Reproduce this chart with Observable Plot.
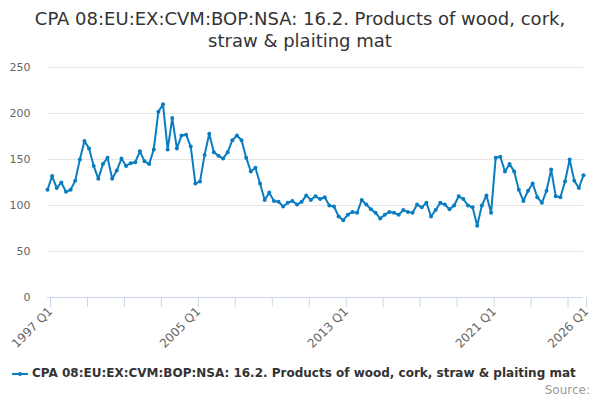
<!DOCTYPE html>
<html>
<head>
<meta charset="utf-8">
<script src="https://cdn.jsdelivr.net/npm/d3@7"></script>
<script src="https://cdn.jsdelivr.net/npm/@observablehq/plot@0.6"></script>
<style>
  body { margin: 0; width: 600px; height: 400px; overflow: hidden; background: #fff; font-family: "DejaVu Sans", sans-serif; }
  #title { height: 56px; box-sizing: border-box; padding: 8px 20px 0; text-align: center; font-size: 18px; line-height: 22px; color: #333; }
  #chart { height: 300px; }
  #legend { position: absolute; top: 366px; left: 12px; font-size: 12px; font-weight: bold; color: #333; white-space: nowrap; }
  #legend svg { vertical-align: middle; margin-right: 4px; }
  #source { position: absolute; top: 383px; right: 10px; font-size: 12px; color: #999; }
</style>
</head>
<body>
<div id="title">CPA 08:EU:EX:CVM:BOP:NSA: 16.2. Products of wood, cork, straw &amp; plaiting mat</div>
<div id="chart"></div>
<div id="legend"></div>
<div id="source">Source:</div>
<script>
const seriesName = 'CPA 08:EU:EX:CVM:BOP:NSA: 16.2. Products of wood, cork, straw & plaiting mat'
const firstYear = 1997

// valores trimestrales, 1997 Q1 en adelante
const valores = [
  117, 132, 119, 125, 115, 117, 127, 150, 170, 162, 143, 129, 145, 152, 129, 138,
  151, 143, 146, 147, 159, 148, 145, 161, 202, 210, 161, 195, 162, 176, 177, 164,
  124, 126, 155, 178, 158, 154, 151, 158, 171, 176, 171, 152, 137, 141, 124, 106,
  114, 105, 104, 99, 103, 105, 101, 104, 111, 106, 110, 107, 109, 100, 99, 88,
  84, 90, 93, 92, 106, 101, 96, 92, 86, 90, 93, 92, 90, 95, 93, 92,
  101, 98, 103, 88, 95, 103, 101, 96, 100, 110, 107, 100, 98, 78, 100, 111,
  92, 152, 153, 137, 145, 137, 117, 105, 116, 124, 109, 103, 116, 139, 110, 109,
  126, 150, 127, 119, 133
]

const trimestres = valores.map((_, i) => `${firstYear + Math.floor(i / 4)} Q${i % 4 + 1}`)

const tickLabels = ['1997 Q1', '2005 Q1', '2013 Q1', '2021 Q1', '2026 Q1']
const tickMarks = trimestres.filter((t, i) => i % 8 === 0 || i === trimestres.length - 1)
const yTicks = [0, 50, 100, 150, 200, 250]

const data = trimestres.map((t, i) => ({ trimestre: t, valor: valores[i] }))

const color = '#0a7dc1'

const chart = Plot.plot({
  width: 600,
  height: 300,
  marginTop: 11,
  marginLeft: 47,
  marginRight: 17,
  marginBottom: 59,
  style: { fontFamily: '"DejaVu Sans", sans-serif', fontSize: '11px', color: '#666', overflow: 'visible' },
  x: { type: 'point', domain: trimestres, padding: 0 },
  y: { domain: [0, 250] },
  marks: [
    Plot.gridY(yTicks, { stroke: '#e6e6e6', strokeOpacity: 1 }),
    Plot.axisY(yTicks, { tickSize: 0, tickPadding: 17, label: null, fill: '#666' }),
    Plot.ruleY([0], { stroke: '#ccd6eb' }),
    Plot.axisX(tickMarks, {
      tickSize: 10, stroke: '#ccd6eb', label: null, fill: '#666', fontSize: 12,
      tickFormat: d => tickLabels.includes(d) ? d : '',
      tickRotate: -45, tickPadding: 2, textAnchor: 'end', dx: 3
    }),
    Plot.line(data, { x: 'trimestre', y: 'valor', stroke: color, strokeWidth: 2 }),
    Plot.dot(data, { x: 'trimestre', y: 'valor', fill: color, r: 2 })
  ]
})

d3.select('#chart').append(() => chart)

// leyenda
const leg = d3.select('#legend')
const sw = leg.append('svg').attr('width', 16).attr('height', 10)
sw.append('line').attr('x1', 0).attr('x2', 16).attr('y1', 5).attr('y2', 5).attr('stroke', color).attr('stroke-width', 2)
sw.append('circle').attr('cx', 8).attr('cy', 5).attr('r', 2).attr('fill', color)
leg.append('span').text(seriesName)
</script>
</body>
</html>
